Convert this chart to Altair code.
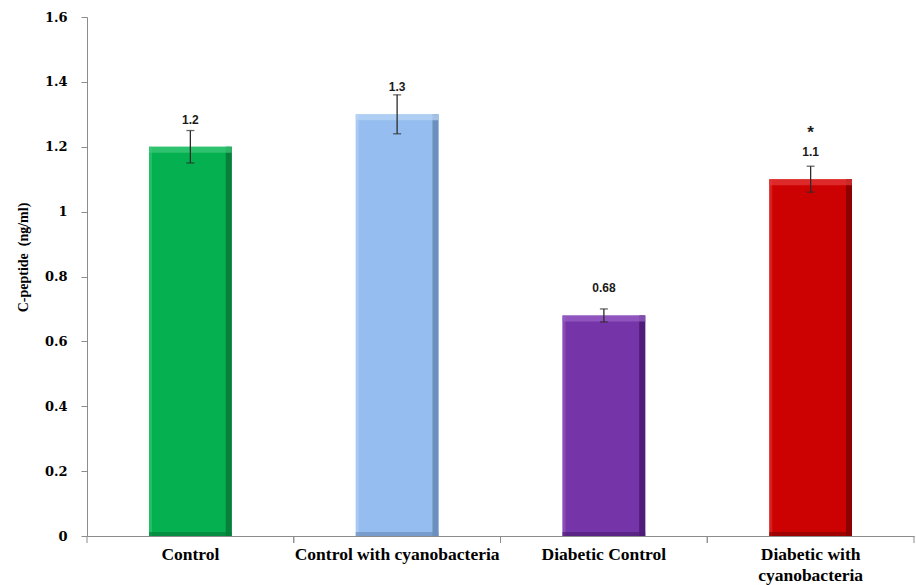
import altair as alt
import pandas as pd

# Serum C-peptide by treatment group (mean ± error)
groups = ["Control", "Control with cyanobacteria", "Diabetic Control", "Diabetic with cyanobacteria"]
means = [1.2, 1.3, 0.68, 1.1]
errors = [0.05, 0.06, 0.02, 0.04]
value_labels = ["1.2", "1.3", "0.68", "1.1"]
significance = ["", "", "", "*"]

fill_colors = ["#05B050", "#95BDEF", "#7535A8", "#CC0202"]
top_colors = ["#3FCB7A", "#BBD6F7", "#9A63C6", "#E43B3B"]
edge_colors = ["#06803A", "#6C90BD", "#4F1C78", "#8C0000"]

df = pd.DataFrame({
    "group": groups,
    "mean": means,
    "lo": [m - e for m, e in zip(means, errors)],
    "hi": [m + e for m, e in zip(means, errors)],
    "label": value_labels,
    "sig": significance,
    "fill": fill_colors,
    "top": top_colors,
    "edge": edge_colors,
})

W, H = 827, 519
step = W / 4.0
bandw = step * 0.4
axis_gray = "#8C8C8C"

x = alt.X(
    "group:N",
    sort=groups,
    scale=alt.Scale(paddingInner=0.6, paddingOuter=0.3),
    axis=alt.Axis(
        title=None,
        labelAngle=0,
        ticks=False,
        domainColor=axis_gray,
        domainWidth=1,
        labelFont="Liberation Serif",
        labelFontWeight="bold",
        labelFontSize=17.5,
        labelColor="#000000",
        labelPadding=9,
        labelLineHeight=21,
        labelLimit=400,
        labelExpr="datum.label == 'Diabetic with cyanobacteria' ? ['Diabetic with', 'cyanobacteria'] : datum.label",
    ),
)
yscale = alt.Scale(domain=[0, 1.6], nice=False, zero=True)
y = alt.Y(
    "mean:Q",
    scale=yscale,
    axis=alt.Axis(
        title="C-peptide\u00a0\u00a0(ng/ml)",
        values=[0, 0.2, 0.4, 0.6, 0.8, 1.0, 1.2, 1.4, 1.6],
        format=".1~f",
        grid=False,
        domainColor=axis_gray,
        tickColor=axis_gray,
        tickSize=6,
        labelFont="DejaVu Serif",
        labelFontWeight="bold",
        labelFontSize=13,
        labelColor="#000000",
        labelPadding=14,
        titleFont="Liberation Serif",
        titleFontWeight="bold",
        titleFontSize=14,
        titleColor="#000000",
        titlePadding=14,
        titleY=240,
    ),
)

base = alt.Chart(df).encode(x=x)

bars = base.mark_bar(size=bandw).encode(
    y=y, y2=alt.datum(0), color=alt.Color("fill:N", scale=None)
)
right_edge = base.mark_bar(width=6, xOffset=bandw / 2 - 3).encode(
    y=alt.Y("mean:Q", scale=yscale), y2=alt.datum(0), color=alt.Color("edge:N", scale=None)
)
left_edge = base.mark_bar(width=3, xOffset=-bandw / 2 + 1.5, opacity=0.5).encode(
    y=alt.Y("mean:Q", scale=yscale), y2=alt.datum(0), color=alt.Color("top:N", scale=None)
)
top_bevel = base.mark_tick(size=bandw, thickness=6, yOffset=3).encode(
    y=alt.Y("mean:Q", scale=yscale), color=alt.Color("top:N", scale=None)
)
bottom_bevel = base.mark_tick(size=bandw, thickness=4, yOffset=-2).encode(
    y=alt.datum(0, scale=yscale), color=alt.Color("edge:N", scale=None)
)

err_color = "#2B2B2B"
stems = base.mark_rule(color=err_color, strokeWidth=1.3).encode(
    y=alt.Y("lo:Q", scale=yscale), y2="hi:Q"
)
caps_hi = base.mark_tick(color=err_color, size=8, thickness=1.3).encode(
    y=alt.Y("hi:Q", scale=yscale)
)
caps_lo = base.mark_tick(color=err_color, size=8, thickness=1.3).encode(
    y=alt.Y("lo:Q", scale=yscale)
)

labels = base.mark_text(
    dy=-27, font="Liberation Sans", fontWeight="bold", fontSize=12, color="#1A1A1A"
).encode(y=alt.Y("mean:Q", scale=yscale), text="label:N")
stars = base.mark_text(
    dy=-46, font="Liberation Sans", fontWeight="bold", fontSize=17, color="#1A1A1A"
).encode(y=alt.Y("mean:Q", scale=yscale), text="sig:N")

# category separator ticks under the x axis
ticks_left = base.mark_rule(color=axis_gray, xOffset=-step / 2).encode(
    y=alt.value(H), y2=alt.value(H + 7)
)
ticks_right = base.mark_rule(color=axis_gray, xOffset=step / 2).encode(
    y=alt.value(H), y2=alt.value(H + 7)
)

chart = alt.layer(
    bars, left_edge, right_edge, top_bevel, bottom_bevel,
    stems, caps_hi, caps_lo, labels, stars, ticks_left, ticks_right,
).properties(
    width=W,
    height=H,
    autosize=alt.AutoSizeParams(type="none"),
    padding={"left": 87, "top": 17, "right": 2, "bottom": 49},
    background="#FFFFFF",
).configure_view(stroke=None)

chart.save("out.html", embed_options={"renderer": "svg", "actions": False})
